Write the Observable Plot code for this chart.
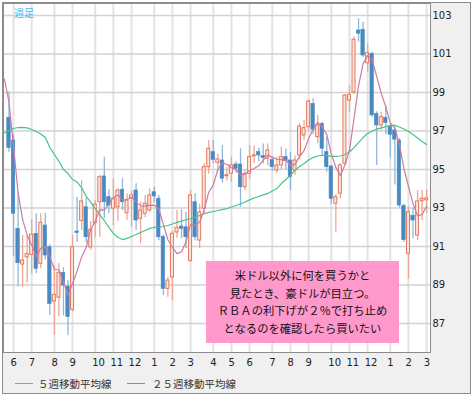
<!DOCTYPE html>
<html><head><meta charset="utf-8">
<script src="https://cdn.jsdelivr.net/npm/d3@7"></script>
<script src="https://cdn.jsdelivr.net/npm/@observablehq/plot@0.6"></script>
<style>
body{margin:0;background:#fff;}
#wrap{position:relative;width:473px;height:399px;font-family:"DejaVu Sans",sans-serif;}
#frame{position:absolute;left:2px;top:2px;width:467px;height:390px;border:1px solid #8c8c8c;background:#f0f0f0;}
#chart{position:absolute;left:0;top:0;}
#tf{position:absolute;left:14px;top:5px;font-family:"Noto Sans CJK JP",sans-serif;font-size:10px;color:#3cbcf0;}
#note{position:absolute;left:206px;top:261px;width:193px;height:82px;background:#ff99cc;display:flex;flex-direction:column;justify-content:center;align-items:center;font-family:"Noto Sans CJK JP",sans-serif;font-size:11.3px;line-height:17.5px;color:#111;white-space:nowrap;}
.lg{position:absolute;top:376px;font-family:"Noto Sans CJK JP",sans-serif;font-size:10.5px;color:#333;white-space:nowrap;}
.sw{position:absolute;top:383px;height:1px;width:18px;}
</style></head>
<body><div id="wrap"><div id="frame"></div><div id="chart"></div>
<div id="tf">週足</div>
<div id="note"><div>米ドル以外に何を買うかと</div><div>見たとき、豪ドルが目立つ。</div><div>ＲＢＡの利下げが２％で打ち止め</div><div>となるのを確認したら買いたい</div></div>
<div class="sw" style="left:15px;background:#d77f9f"></div><div class="lg" style="left:38px">５週移動平均線</div>
<div class="sw" style="left:127px;background:#34c47f"></div><div class="lg" style="left:152px">２５週移動平均線</div>
</div>
<script>
// weekly candles, index 0 = week of 2013-05-27 ... 92 = week of 2015-03-02
const opens = [97.69,96.51,91.92,90.06,90.44,90.57,91.66,90.10,92.09,90.96,
88.14,88.34,89.63,88.92,87.71,91.78,92.33,93.04,90.95,92.21,
93.30,94.64,93.56,92.97,93.04,93.95,92.73,93.51,93.91,92.44,
92.70,92.87,93.82,93.48,91.50,88.80,89.39,91.73,92.04,92.00,
90.24,93.30,91.31,92.96,95.12,95.90,95.35,95.47,94.65,94.78,
95.26,95.26,94.08,94.77,95.68,95.90,95.70,95.56,95.50,94.95,
95.21,95.64,95.47,94.95,95.73,96.77,97.20,98.41,96.68,97.37,
95.90,95.16,93.22,93.74,95.30,98.58,99.00,102.22,102.26,100.52,
101.01,97.89,97.29,97.69,97.20,97.03,96.51,93.10,90.62,92.60,
91.57,93.35,93.40];
const highs = [99.02,96.80,93.74,91.57,91.57,92.39,92.70,92.70,92.73,91.10,
89.96,90.10,89.90,89.23,91.57,93.56,94.43,93.50,92.30,93.39,
94.70,95.64,93.95,94.52,94.00,94.52,93.74,93.86,94.26,93.30,
93.65,94.00,94.08,93.65,91.60,89.40,91.80,92.87,92.91,92.78,
93.91,93.74,93.20,95.30,96.51,96.50,95.80,96.25,95.10,95.64,
95.40,96.08,95.00,96.25,96.22,96.10,96.33,96.33,95.68,95.64,
96.16,96.07,95.90,95.70,97.40,97.55,98.62,98.67,97.81,97.46,
96.68,95.20,93.70,95.30,98.90,99.36,101.90,102.83,102.65,101.53,
101.10,98.00,97.98,98.32,97.30,97.20,96.60,93.20,93.04,93.00,
93.91,93.91,93.95];
const lows = [95.90,90.48,88.89,88.89,89.10,89.58,89.60,89.84,90.30,87.42,
86.38,87.36,87.40,86.38,87.60,91.22,91.83,91.20,90.80,91.48,
91.48,92.44,92.70,92.09,92.31,92.87,92.35,92.00,91.83,91.14,
92.50,92.78,93.30,91.30,88.45,88.37,88.19,91.42,91.40,90.88,
90.20,91.30,90.90,92.70,94.77,95.30,94.90,94.30,94.40,94.34,
94.80,93.04,93.90,94.50,95.30,95.40,95.29,95.20,94.90,94.80,
95.00,95.00,93.91,94.70,95.50,96.50,97.00,96.80,96.33,95.70,
94.86,93.20,91.74,93.48,95.20,97.98,98.90,101.61,100.80,100.05,
97.70,95.21,97.00,96.80,95.60,94.20,93.00,91.20,89.32,91.40,
91.31,92.35,92.70];
const closes = [96.11,92.70,90.13,90.27,90.61,91.62,89.84,92.23,90.53,88.02,
88.49,89.63,88.97,87.33,90.96,91.70,93.34,91.48,91.88,93.18,
94.60,93.30,93.13,93.48,93.91,93.30,93.39,93.65,92.35,92.87,
93.22,93.65,93.60,91.48,88.80,89.23,91.66,91.97,91.92,91.48,
93.65,91.48,92.77,95.12,96.08,95.50,95.52,94.52,94.70,95.21,
95.04,94.08,94.77,95.64,95.73,95.73,95.60,95.99,95.12,95.21,
95.64,95.43,94.60,95.47,97.23,97.15,98.53,97.06,97.29,96.08,
95.12,93.48,93.56,95.21,98.84,98.88,101.74,102.05,100.92,101.04,
97.81,97.29,97.72,97.41,96.80,96.55,93.13,91.33,92.78,92.35,
93.34,93.48,93.50];
// moving averages, index -1 .. 92
const ma5 = [99.7,98.5,96.2,93.8,92.4,91.6,91.07,90.49,90.91,90.97,
90.45,89.82,89.78,89.13,88.49,89.08,89.72,90.46,90.96,91.87,
92.32,92.90,92.89,93.22,93.54,93.68,93.42,93.44,93.55,93.32,
93.11,93.10,93.15,93.14,92.96,92.15,91.35,90.95,90.63,90.72,
91.25,92.14,92.10,92.26,92.90,93.82,94.19,95.00,95.35,95.26,
95.09,95.00,94.71,94.76,94.95,95.05,95.19,95.49,95.74,95.63,
95.53,95.51,95.48,95.20,95.27,95.67,95.98,96.60,97.09,97.45,
97.22,96.82,95.81,95.11,94.69,95.24,95.99,97.65,99.34,100.49,
100.93,100.71,99.82,98.96,98.25,97.41,97.15,96.32,95.04,94.12,
93.23,92.59,92.66,93.09];
const ma25 = [96.90,97.03,97.13,97.18,97.19,97.16,97.08,96.97,96.84,96.66,
96.14,95.78,95.42,95.00,94.79,94.48,94.35,94.06,93.60,93.29,
92.97,92.66,92.35,91.99,91.68,91.47,91.36,91.42,91.52,91.62,
91.73,91.83,91.94,91.99,92.00,92.04,92.09,92.17,92.25,92.32,
92.39,92.45,92.53,92.61,92.70,92.77,92.82,92.87,92.92,92.97,
93.05,93.13,93.21,93.31,93.42,93.52,93.60,93.68,93.75,93.88,
94.01,94.27,94.48,94.69,94.95,95.16,95.31,95.49,95.62,95.70,
95.73,95.73,95.68,95.68,95.70,95.78,95.91,96.14,96.40,96.66,
96.87,97.00,97.10,97.16,97.23,97.29,97.29,97.21,97.10,96.97,
96.82,96.64,96.45,96.30];
const monthTicks = [1,5,10,14,19,23,27,32,36,40,45,49,53,58,62,66,71,75,79,84,88,92];
const monthLabels = ["6","7","8","9","10","11","12","1","2","3","4","5","6","7","8","9","10","11","12","1","2","3"];
const yTicks = [87,89,91,93,95,97,99,101,103];

const candles = opens.map((o,i)=>({i, open:o, high:highs[i], low:lows[i], close:closes[i]}));
const maRows = ma5.map((v,k)=>({i:k-1, ma5:v, ma25:ma25[k]}));
const labelOf = new Map(monthTicks.map((t,k)=>[t, monthLabels[k]]));
const up = d => d.close >= d.open;

const chart = Plot.plot({
  width: 473, height: 372,
  marginLeft: 3, marginRight: 43, marginTop: 3, marginBottom: 20,
  x: {domain: [-1.21, 92.85], axis: null, label: null},
  y: {domain: [85.494, 103.623], axis: null, label: null},
  style: {background: "transparent", fontFamily: "DejaVu Sans, sans-serif"},
  marks: [
    Plot.frame({fill: "white"}),
    Plot.gridX(monthTicks, {stroke: "#e3e3e3", strokeOpacity: 1, strokeWidth: 2}),
    Plot.gridY(yTicks, {stroke: "#d2d2d2", strokeOpacity: 1, strokeWidth: 1.5}),
    Plot.ruleX(candles, {x: "i", y1: "low", y2: "high", stroke: d => up(d) ? "#efa692" : "#8fb7db", strokeWidth: 1.3}),
    Plot.rect(candles, {filter: d => !up(d), x1: d => d.i - 0.38, x2: d => d.i + 0.38, y1: "open", y2: "close", fill: "#4a89c2", stroke: "#4a89c2", strokeWidth: 0.6}),
    Plot.rect(candles, {filter: up, x1: d => d.i - 0.33, x2: d => d.i + 0.33, y1: "open", y2: "close", fill: "#fbe6df", stroke: "#e5785c", strokeWidth: 1}),
    Plot.line(maRows, {x: "i", y: "ma25", stroke: "#45c585", strokeWidth: 1.2, clip: true}),
    Plot.line(maRows, {x: "i", y: "ma5", stroke: "#c97ca2", strokeWidth: 1.2, clip: true}),
    Plot.axisY(yTicks, {anchor: "right", label: null, tickSize: 0, tickPadding: 2, fontSize: 10, fill: "#222", tickFormat: d => String(d)}),
    Plot.axisX(monthTicks, {anchor: "bottom", label: null, tickSize: 0, tickPadding: 6, fontSize: 10, fill: "#222", textAnchor: "start", dx: -3, tickFormat: d => labelOf.get(d)}),
    Plot.frame({stroke: "#8c8c8c"})
  ]
});
document.getElementById("chart").appendChild(chart);
</script>
</body></html>
